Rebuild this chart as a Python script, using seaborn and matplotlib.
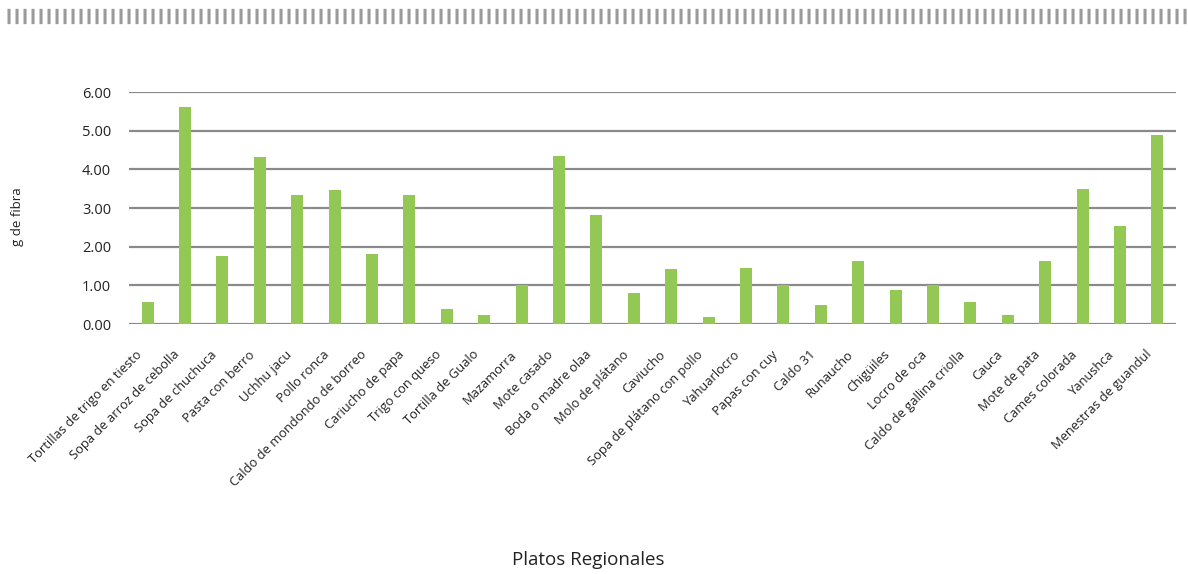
import matplotlib
matplotlib.use("Agg")
import matplotlib.pyplot as plt
import matplotlib.transforms as mtransforms
from matplotlib.lines import Line2D
import seaborn as sns
import pandas as pd

platos = [
    "Tortillas de trigo en tiesto", "Sopa de arroz de cebolla", "Sopa de chuchuca",
    "Pasta con berro", "Uchhu jacu", "Pollo ronca", "Caldo de mondondo de borreo",
    "Cariucho de papa", "Trigo con queso", "Tortilla de Gualo", "Mazamorra",
    "Mote casado", "Boda o madre olaa", "Molo de plátano", "Caviucho",
    "Sopa de plátano con pollo", "Yahuarlocro", "Papas con cuy", "Caldo 31",
    "Runaucho", "Chigüiles", "Locro de oca", "Caldo de gallina criolla", "Cauca",
    "Mote de pata", "Cames colorada", "Yanushca", "Menestras de guandul",
]
fibra = [
    0.58, 5.62, 1.77, 4.33, 3.34, 3.47, 1.82, 3.34, 0.40, 0.24, 1.01,
    4.35, 2.83, 0.81, 1.43, 0.19, 1.46, 1.01, 0.50, 1.64, 0.89, 1.01,
    0.58, 0.24, 1.64, 3.50, 2.54, 4.90,
]
y_ticks = [0, 1, 2, 3, 4, 5, 6]

sns.set_style("white")
plt.rcParams["font.family"] = ["Open Sans", "DejaVu Sans"]
plt.rcParams["lines.scale_dashes"] = False

df = pd.DataFrame({"plato": platos, "fibra": fibra})

W, H = 1188, 574
fig = plt.figure(figsize=(W / 100, H / 100), dpi=100)
ax = fig.add_axes([129 / W, 1 - 324 / H, (1176 - 129) / W, (324 - 92) / H])

sns.barplot(data=df, x="plato", y="fibra", color="#92C853", width=0.32,
            saturation=1, linewidth=0, edgecolor="none", ax=ax, zorder=3)

ax.set_ylim(0, 6)
ax.set_xlim(-0.5, len(platos) - 0.5)
ax.set_yticks(y_ticks)
ax.set_yticklabels([f"{v:.2f}" for v in y_ticks], fontsize=10.5, color="#222222")
ax.yaxis.grid(True, color="#8a8a8a", linewidth=1.6, zorder=0)
ax.set_axisbelow(True)
for s in ax.spines.values():
    s.set_visible(False)
ax.tick_params(axis="both", length=0)
ax.tick_params(axis="y", pad=13)
ax.tick_params(axis="x", pad=8)

ax.set_xticks(range(len(platos)))
ax.set_xticklabels(platos, rotation=45, ha="right", rotation_mode="anchor",
                   fontsize=9.3, color="#222222")
shift = mtransforms.ScaledTranslation(-12 / 100, -13 / 100, fig.dpi_scale_trans)
for lbl in ax.get_xticklabels():
    lbl.set_transform(lbl.get_transform() + shift)

ax.set_xlabel("")
ax.set_ylabel("")
fig.text(588 / W, 1 - 560 / H, "Platos Regionales", fontsize=13.5,
         color="#222222", ha="center", va="center")
fig.text(17 / W, 1 - 217 / H, "g de fibra", fontsize=9.5, color="#222222",
         rotation=90, ha="center", va="center")

# dashed decorative band along the top edge
band = Line2D([7 / W, 1.0], [1 - 16 / H, 1 - 16 / H],
              transform=fig.transFigure, color="#9a9a9a", linewidth=11,
              solid_capstyle="butt", dash_capstyle="butt")
band.set_dashes((2.2, 3.56))
fig.add_artist(band)

fig.savefig("out.png", dpi=100)
